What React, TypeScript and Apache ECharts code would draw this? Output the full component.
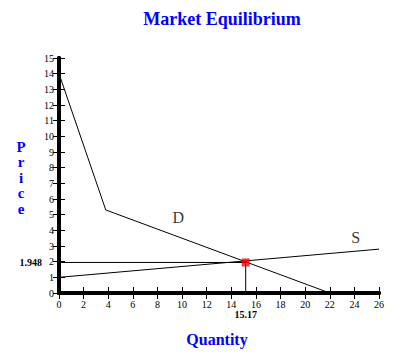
import React, { useEffect, useRef } from "react";
import * as echarts from "echarts";

const demandPoints: [number, number][] = [[0, 14], [3.8, 5.3], [22, 0]];
const supplyPoints: [number, number][] = [[0, 1], [26, 2.8]];
const eqQuantity = 15.17;
const eqPrice = 1.948;
const curveLabels: { name: string; x: number; y: number }[] = [
  { name: "D", x: 9.7, y: 4.85 },
  { name: "S", x: 24.1, y: 3.55 },
];
const priceLetters = ["P", "r", "i", "c", "e"];

const FONT = "'Liberation Serif', 'Times New Roman', serif";

export default function App() {
  const ref = useRef<HTMLDivElement>(null);
  useEffect(() => {
    const chart = echarts.init(ref.current!, null, { renderer: "svg" });
    const axisCommon = (showLabels: boolean, inside: boolean) => ({
      axisLine: { show: true, lineStyle: { color: "#000", width: 4 } },
      axisTick: { show: true, inside, length: 6, lineStyle: { color: "#000", width: 1 } },
      axisLabel: { show: showLabels, color: "#000", fontSize: 10, fontFamily: FONT },
      splitLine: { show: false },
    });
    chart.setOption({
      animation: false,
      backgroundColor: "#fff",
      title: {
        text: "Market Equilibrium",
        left: 217,
        top: 5,
        textAlign: "center",
        textStyle: { color: "#0000ff", fontSize: 18, fontWeight: "bold", fontFamily: FONT },
      },
      graphic: [
        ...priceLetters.map((ch, i) => ({
          type: "text",
          x: 21,
          y: 147 + i * 15.4,
          style: {
            text: ch,
            fill: "#0000ff",
            font: `bold 15px ${FONT}`,
            align: "center",
            verticalAlign: "middle",
          },
        })),
        {
          type: "text",
          x: 217,
          y: 339,
          style: {
            text: "Quantity",
            fill: "#0000ff",
            font: `bold 16px ${FONT}`,
            align: "center",
            verticalAlign: "middle",
          },
        },
      ],
      grid: { left: 59, right: 28, top: 58, bottom: 64, containLabel: false },
      xAxis: [
        { type: "value", min: 0, max: 26, interval: 2, ...axisCommon(true, false), axisLabel: { color: "#000", fontSize: 10, lineHeight: 10, fontFamily: FONT, margin: 6 } },
        { type: "value", min: 0, max: 26, interval: 2, position: "bottom", ...axisCommon(false, true) },
      ],
      yAxis: [
        { type: "value", min: 0, max: 15, interval: 1, ...axisCommon(true, false), axisLabel: { color: "#000", fontSize: 10, fontFamily: FONT, margin: 5 } },
        { type: "value", min: 0, max: 15, interval: 1, position: "left", ...axisCommon(false, true) },
      ],
      series: [
        {
          type: "line",
          data: demandPoints,
          symbol: "none",
          lineStyle: { color: "#000", width: 1 },
        },
        {
          type: "line",
          data: supplyPoints,
          symbol: "none",
          lineStyle: { color: "#000", width: 1 },
        },
        {
          type: "line",
          data: [[0, eqPrice], [eqQuantity, eqPrice]],
          symbol: "none",
          lineStyle: { color: "#000", width: 1 },
          markPoint: {
            symbol: "rect",
            symbolSize: 0,
            data: [
              {
                coord: [0, eqPrice],
                label: {
                  show: true,
                  formatter: String(eqPrice),
                  position: "left",
                  distance: 17,
                  color: "#000",
                  fontSize: 10,
                  fontWeight: "bold",
                  fontFamily: FONT,
                },
              },
            ],
          },
        },
        {
          type: "line",
          data: [[eqQuantity, 0], [eqQuantity, eqPrice]],
          symbol: "none",
          lineStyle: { color: "#000", width: 1 },
          markPoint: {
            symbol: "rect",
            symbolSize: 0,
            data: [
              {
                coord: [eqQuantity, 0],
                label: {
                  show: true,
                  formatter: String(eqQuantity),
                  position: "bottom",
                  distance: 16,
                  lineHeight: 10,
                  color: "#000",
                  fontSize: 10,
                  fontWeight: "bold",
                  fontFamily: FONT,
                },
              },
            ],
          },
        },
        {
          type: "scatter",
          data: [[eqQuantity, eqPrice]],
          symbol: "rect",
          symbolSize: 8,
          itemStyle: { color: "#ff0000" },
          z: 5,
        },
        {
          type: "scatter",
          data: curveLabels.map((d) => ({ value: [d.x, d.y], name: d.name })),
          symbolSize: 0,
          label: {
            show: true,
            position: "inside",
            formatter: (p: any) => p.name,
            color: "#000",
            fontSize: 16,
            fontFamily: FONT,
          },
        },
      ],
    });
    return () => chart.dispose();
  }, []);
  return <div ref={ref} style={{ width: 407, height: 357, position: "absolute", left: 0, top: 0 }} />;
}
